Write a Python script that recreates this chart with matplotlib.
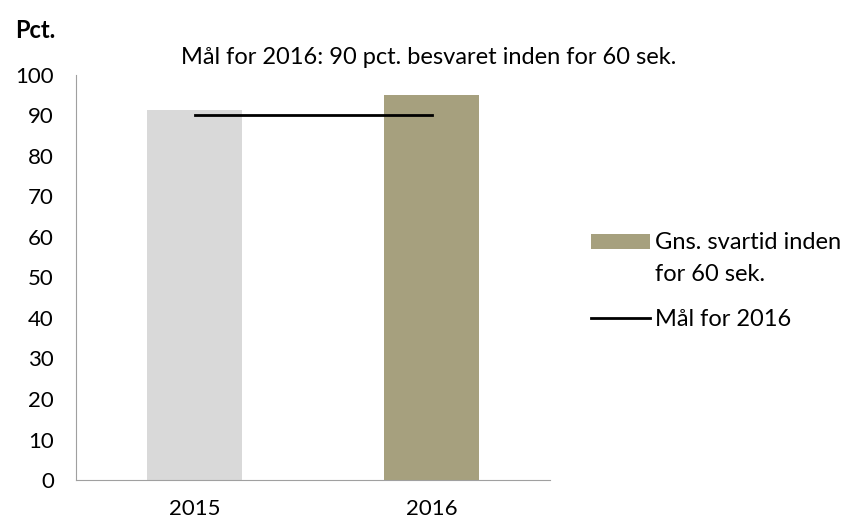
import matplotlib.pyplot as plt
import numpy as np

plt.rcParams["font.family"] = ["Lato", "DejaVu Sans"]

years = ["2015", "2016"]
values = [91.3, 95.0]
bar_colors = ["#d9d9d9", "#a6a07e"]
goal = [90, 90]

fig = plt.figure(figsize=(8.49, 5.24), dpi=100)
ax = fig.add_axes([76 / 849, 1 - 480 / 524, (550 - 76) / 849, (480 - 75) / 524])

x = np.arange(len(years))
bars = ax.bar(x, values, width=0.4, color=bar_colors)
line, = ax.plot(x, goal, color="black", linewidth=2)

ax.set_xlim(-0.5, 1.5)
ax.set_ylim(0, 100)
ax.set_yticks(range(0, 101, 10))
ax.set_xticks(x)
ax.set_xticklabels(years)
ax.tick_params(length=0, labelsize=16)
ax.tick_params(axis="x", pad=14)
ax.tick_params(axis="y", pad=16)
for s in ["top", "right"]:
    ax.spines[s].set_visible(False)
for s in ["left", "bottom"]:
    ax.spines[s].set_color("#a0a0a0")

fig.text(15 / 849, 1 - 30 / 524, "Pct.", fontsize=17, fontweight="bold", va="center")
fig.text(429 / 849, 1 - 58 / 524, "Mål for 2016: 90 pct. besvaret inden for 60 sek.",
         fontsize=17, ha="center", va="center")

leg = fig.legend([bars[1], line], ["Gns. svartid inden", "Mål for 2016"],
                 loc="upper left", bbox_to_anchor=(582 / 849, 1 - 223 / 524),
                 frameon=False, fontsize=17, handlelength=2.5, handleheight=0.6,
                 handletextpad=0.2, labelspacing=2.35, borderaxespad=0)

# second line of the first legend label
fig.canvas.draw()
t0 = leg.get_texts()[0].get_window_extent()
fig.text(t0.x0 / 849, (t0.y0 - 32) / 524, "for 60 sek.", fontsize=17,
         ha="left", va="bottom")

fig.savefig("out.png", dpi=100)
